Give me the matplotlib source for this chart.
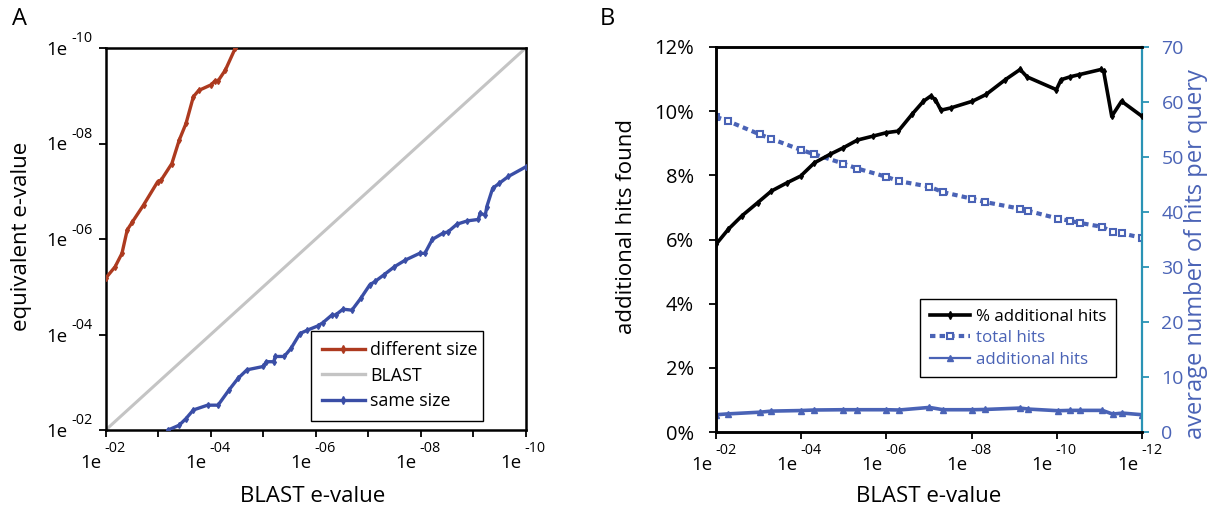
import matplotlib
matplotlib.use("Agg")
import matplotlib.pyplot as plt
from matplotlib.transforms import offset_copy
from matplotlib.lines import Line2D
import numpy as np

plt.rcParams['font.family'] = ['Open Sans', 'DejaVu Sans']

# ---------------- data (x = -log10(BLAST e-value)) ----------------
# Panel A
diff_x = [2.0, 2.18, 2.31, 2.41, 2.51, 2.72, 2.99, 3.06, 3.26, 3.40, 3.53, 3.67, 3.77, 4.01, 4.08, 4.14, 4.28, 4.47]
diff_y = [5.18, 5.42, 5.70, 6.19, 6.36, 6.71, 7.20, 7.24, 7.58, 8.07, 8.42, 8.98, 9.11, 9.23, 9.31, 9.31, 9.54, 10.0]

same_x = [3.19, 3.40, 3.53, 3.67, 3.94, 4.14, 4.35, 4.52, 4.69, 5.00, 5.06, 5.20, 5.23, 5.40, 5.53, 5.70,
          5.84, 6.04, 6.14, 6.31, 6.38, 6.52, 6.69, 6.86, 7.03, 7.13, 7.30, 7.50, 7.71, 7.98, 8.08, 8.22,
          8.42, 8.52, 8.69, 8.89, 9.10, 9.13, 9.23, 9.26, 9.37, 9.50, 9.67, 10.0]
same_y = [2.00, 2.10, 2.24, 2.42, 2.52, 2.52, 2.84, 3.08, 3.26, 3.33, 3.43, 3.43, 3.54, 3.54, 3.71, 4.02,
          4.09, 4.18, 4.25, 4.41, 4.41, 4.53, 4.51, 4.76, 5.04, 5.11, 5.25, 5.42, 5.56, 5.70, 5.70, 5.99,
          6.12, 6.15, 6.31, 6.38, 6.41, 6.54, 6.50, 6.68, 7.06, 7.17, 7.31, 7.51]

blast_x = [2, 10]
blast_y = [2, 10]

a_xticks = [2, 4, 6, 8, 10]
a_xlabels = ['-02', '-04', '-06', '-08', '-10']

# Panel B
pct_x = [2.0, 2.29, 2.61, 2.98, 3.30, 3.67, 3.99, 4.31, 4.67, 4.99, 5.32, 5.68, 6.0, 6.28, 6.60, 6.87,
         7.04, 7.15, 7.28, 7.51, 8.02, 8.34, 8.79, 9.14, 9.30, 9.99, 10.10, 10.31, 10.53, 11.04, 11.10,
         11.29, 11.52, 12.0]
pct_y = [5.85, 6.32, 6.74, 7.15, 7.51, 7.77, 7.98, 8.39, 8.65, 8.86, 9.10, 9.22, 9.33, 9.38, 9.90, 10.31,
         10.47, 10.36, 10.03, 10.10, 10.31, 10.52, 10.98, 11.30, 11.07, 10.67, 10.98, 11.07, 11.14, 11.30,
         11.24, 9.84, 10.31, 9.84]

hits_x = [2.0, 2.29, 3.03, 3.30, 3.99, 4.31, 4.99, 5.32, 6.0, 6.30, 7.01, 7.33, 8.02, 8.32, 9.14, 9.33,
          10.03, 10.31, 10.55, 11.07, 11.31, 11.54, 12.0]
total_hits = [57.3, 56.5, 54.1, 53.3, 51.3, 50.5, 48.8, 47.9, 46.4, 45.6, 44.6, 43.6, 42.4, 41.8, 40.6,
              40.2, 38.8, 38.4, 38.0, 37.3, 36.3, 36.1, 35.3]
additional_hits = [3.14, 3.3, 3.6, 3.8, 3.9, 4.0, 4.05, 4.05, 4.05, 4.0, 4.47, 4.05, 4.05, 4.1, 4.35,
                   4.17, 3.87, 3.93, 3.93, 3.93, 3.26, 3.44, 3.14]

b_xticks = [2, 4, 6, 8, 10, 12]
b_xlabels = ['-02', '-04', '-06', '-08', '-10', '-12']
b_yticks = [0, 2, 4, 6, 8, 10, 12]
b_ylabels = ['0%', '2%', '4%', '6%', '8%', '10%', '12%']
b_y2ticks = [0, 10, 20, 30, 40, 50, 60, 70]

# ---------------- styling ----------------
RED = '#ad3a1f'
BLUE_A = '#3a4ea6'
GRAY = '#c4c4c4'
BLUE_B = '#4a63b6'
TEAL = '#2a93b5'

W, H = 1211, 516
fig = plt.figure(figsize=(W / 100, H / 100), dpi=100)

axA = fig.add_axes([105.7 / W, (H - 430) / H, 420 / W, 382 / H])
axB = fig.add_axes([716 / W, (H - 432) / H, 426 / W, 385 / H])

BIG = 13.4
SUP = 10.4


def exp_xlabels(ax, ticks, labels):
    tr = ax.get_xaxis_transform()
    for t, lab in zip(ticks, labels):
        ax.text(t, 0, '1e', transform=offset_copy(tr, fig=fig, x=-4, y=-38, units='dots'),
                ha='right', va='baseline', fontsize=BIG)
        ax.text(t, 0, lab, transform=offset_copy(tr, fig=fig, x=-1, y=-22, units='dots'),
                ha='left', va='baseline', fontsize=SUP)


# ---------------- Panel A ----------------
axA.plot(blast_x, blast_y, color=GRAY, lw=2.2, solid_capstyle='butt', zorder=2)
axA.plot(diff_x, diff_y, color=RED, lw=2.4, marker='d', ms=3, zorder=3)
axA.plot(same_x, same_y, color=BLUE_A, lw=2.4, marker='d', ms=3, zorder=3)
axA.set_xlim(2, 10)
axA.set_ylim(2, 10)
axA.set_xticks(np.arange(2, 11, 1))
axA.set_xticklabels([])
axA.set_yticks(a_xticks)
axA.set_yticklabels([])
axA.tick_params(direction='out', length=5, width=1.3, color='black')
for s in axA.spines.values():
    s.set_linewidth(1.8)
exp_xlabels(axA, a_xticks, a_xlabels)
trY = axA.get_yaxis_transform()
for t, lab in zip(a_xticks, a_xlabels):
    axA.text(0, t, lab, transform=offset_copy(trY, fig=fig, x=-13, y=9, units='dots'),
             ha='right', va='center', fontsize=SUP)
    axA.text(0, t, '1e', transform=offset_copy(trY, fig=fig, x=-38, y=-2, units='dots'),
             ha='right', va='center', fontsize=BIG)

# legend A
hA = [Line2D([], [], color=RED, lw=2.4, marker='d', ms=4),
      Line2D([], [], color=GRAY, lw=2.4),
      Line2D([], [], color=BLUE_A, lw=2.4, marker='d', ms=4)]
legA = axA.legend(hA, ['different size', 'BLAST', 'same size'], loc='lower left',
                  bbox_to_anchor=(0.49, 0.024, 0.408, 0.233), mode='expand',
                  fontsize=12.8, frameon=True, fancybox=False, framealpha=1,
                  edgecolor='black', handlelength=2.4, handletextpad=0.3,
                  labelspacing=0.42, borderpad=0.6, borderaxespad=0)
legA.get_frame().set_linewidth(1.0)

fig.text(22 / W, 1 - 236 / H, 'equivalent e-value', rotation=90, ha='center', va='center', fontsize=16)
fig.text(313 / W, 1 - 497 / H, 'BLAST e-value', ha='center', va='center', fontsize=16)
fig.text(19 / W, 1 - 19 / H, 'A', ha='center', va='center', fontsize=17)

# ---------------- Panel B ----------------
ax2 = axB.twinx()
axB.set_zorder(ax2.get_zorder() + 1)
axB.patch.set_visible(False)

axB.plot(pct_x, pct_y, color='black', lw=2.6, marker='d', ms=3, zorder=4)
ax2.plot(hits_x, total_hits, color=BLUE_B, lw=3, linestyle=(0, (1.3, 1.0)),
         marker='s', ms=5, mfc='white', mec=BLUE_B, mew=1.5)
ax2.plot(hits_x, additional_hits, color=BLUE_B, lw=2.6, marker='^', ms=4, mfc=BLUE_B, mec=BLUE_B)

axB.set_xlim(2, 12)
axB.set_ylim(0, 12)
ax2.set_ylim(0, 70)
axB.set_xticks(b_xticks)
axB.set_xticklabels([])
axB.set_yticks(b_yticks)
axB.set_yticklabels(b_ylabels, fontsize=14.5)
ax2.set_yticks(b_y2ticks)
ax2.set_yticklabels([str(v) for v in b_y2ticks], fontsize=14, color=BLUE_B)
axB.tick_params(direction='out', length=5, width=1.3, color='black', pad=11)
ax2.tick_params(direction='out', length=5, width=1.3, color=TEAL, pad=9)
for s in ['left', 'top', 'bottom']:
    axB.spines[s].set_linewidth(1.8)
    ax2.spines[s].set_linewidth(1.8)
axB.spines['right'].set_visible(False)
ax2.spines['right'].set_color(TEAL)
ax2.spines['right'].set_linewidth(1.6)
exp_xlabels(axB, b_xticks, b_xlabels)

hB = [Line2D([], [], color='black', lw=2.6, marker='d', ms=4),
      Line2D([], [], color=BLUE_B, lw=3, linestyle=(0, (1.3, 1.0)), marker='s', ms=5,
             mfc='white', mec=BLUE_B, mew=1.5),
      Line2D([], [], color=BLUE_B, lw=1.6, marker='^', ms=5)]
legB = axB.legend(hB, ['% additional hits', 'total hits', 'additional hits'], loc='lower left',
                  bbox_to_anchor=(0.48, 0.143, 0.46, 0.21), mode='expand',
                  fontsize=12.2, frameon=True, fancybox=False, framealpha=1,
                  edgecolor='black', handlelength=2.4, handletextpad=0.35,
                  labelspacing=0.32, borderpad=0.55, borderaxespad=0)
legB.get_frame().set_linewidth(1.0)
for txt, c in zip(legB.get_texts(), ['black', BLUE_B, BLUE_B]):
    txt.set_color(c)

fig.text(626 / W, 1 - 226 / H, 'additional hits found', rotation=90, ha='center', va='center', fontsize=16)
fig.text(1196 / W, 1 - 254 / H, 'average number of hits per query', rotation=90, ha='center',
         va='center', fontsize=17, color=BLUE_B)
fig.text(929 / W, 1 - 497 / H, 'BLAST e-value', ha='center', va='center', fontsize=16)
fig.text(607 / W, 1 - 19 / H, 'B', ha='center', va='center', fontsize=17)

fig.savefig('out.png', dpi=100)
